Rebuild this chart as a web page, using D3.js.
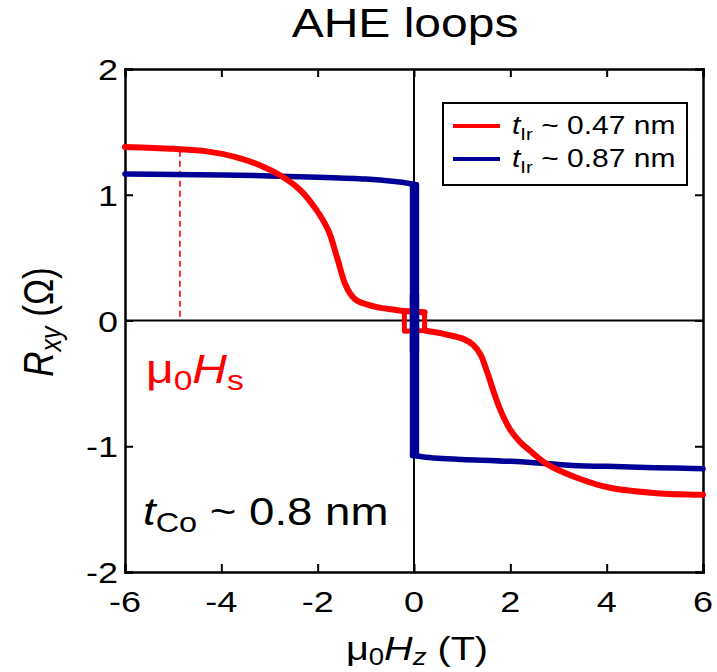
<!DOCTYPE html>
<html><head><meta charset="utf-8">
<script src="https://cdn.jsdelivr.net/npm/d3@7"></script>
<style>
html,body{margin:0;padding:0;background:#fff;}
text{font-family:"Liberation Sans", Arial, Helvetica, sans-serif;}
</style></head>
<body><svg id="c" width="717" height="672"></svg>
<script>
// ---- data ----
const xTicks = [-6, -4, -2, 0, 2, 4, 6];
const yTicks = [-2, -1, 0, 1, 2];
// red (t_Ir ~ 0.47 nm): upper branch up to switching, lower branch after switching
const redUpX = [-6, -5, -4.3, -3.7, -3.2, -2.78, -2.37, -2.02, -1.78, -1.6, -1.43, -1.3, -1.19, -1.0, -0.77, -0.4, -0.2, 0.22];
const redUpY = [1.38, 1.365, 1.345, 1.3, 1.235, 1.155, 1.04, 0.876, 0.717, 0.505, 0.29, 0.2, 0.16, 0.13, 0.106, 0.085, 0.075, 0.065];
const redDownX = [0.22, 0.61, 1.02, 1.22, 1.38, 1.51, 1.72, 1.86, 2.0, 2.2, 2.41, 2.75, 3.38, 4.07, 5.04, 6];
const redDownY = [-0.08, -0.106, -0.146, -0.19, -0.27, -0.40, -0.64, -0.77, -0.87, -0.965, -1.036, -1.14, -1.25, -1.33, -1.373, -1.386];
const redLoopX = [-0.2, 0.22, 0.22, -0.2, -0.2];
const redLoopY = [0.075, 0.065, -0.08, -0.085, 0.075];
// blue (t_Ir ~ 0.87 nm)
const blueLeftX = [-6, -5, -4, -3, -2, -1, -0.4, -0.1, 0.05];
const blueLeftY = [1.165, 1.162, 1.158, 1.15, 1.14, 1.125, 1.105, 1.09, 1.08];
const blueRightX = [-0.03, 0.05, 0.2, 0.5, 1, 2, 3, 3.4, 4, 5, 6];
const blueRightY = [-1.072, -1.075, -1.085, -1.095, -1.105, -1.12, -1.145, -1.155, -1.16, -1.17, -1.178];
const blueSwitchX = [-0.03, 0.05];
const blueSwitchTop = 1.08;
const blueSwitchBottom = -1.075;
// saturation-field marker
const hsX = -4.86, hsTop = 1.35, hsBottom = 0.03;

// ---- scales ----
const svg = d3.select("#c");
const x = d3.scaleLinear().domain([-6, 6]).range([125, 703]);
const y = d3.scaleLinear().domain([-2, 2]).range([572, 69]);
const SX = 1.2; // horizontal text stretch

// zero lines
svg.append("line").attr("x1", x(-6)).attr("x2", x(6)).attr("y1", y(0)).attr("y2", y(0))
  .attr("stroke", "#000").attr("stroke-width", 2);
svg.append("line").attr("x1", x(0)).attr("x2", x(0)).attr("y1", y(-2)).attr("y2", y(2))
  .attr("stroke", "#000").attr("stroke-width", 2);

// axes (inward ticks)
const tickLen = 8;
const axB = svg.append("g").attr("transform", `translate(0,${y(-2)})`)
  .call(d3.axisBottom(x).tickValues(xTicks).tickSize(-tickLen).tickFormat(""));
const axT = svg.append("g").attr("transform", `translate(0,${y(2)})`)
  .call(d3.axisTop(x).tickValues(xTicks).tickSize(-tickLen).tickFormat(""));
const axL = svg.append("g").attr("transform", `translate(${x(-6)},0)`)
  .call(d3.axisLeft(y).tickValues(yTicks).tickSize(-tickLen).tickFormat(""));
const axR = svg.append("g").attr("transform", `translate(${x(6)},0)`)
  .call(d3.axisRight(y).tickValues(yTicks).tickSize(-tickLen).tickFormat(""));
[axB, axT, axL, axR].forEach(g => {
  g.select(".domain").attr("stroke", "#000").attr("stroke-width", 2.5);
  g.selectAll(".tick line").attr("stroke", "#000").attr("stroke-width", 2);
});

// tick labels
xTicks.forEach(v => {
  svg.append("text").attr("transform", `translate(${x(v)},612) scale(${SX},1)`)
    .attr("text-anchor", "middle").attr("font-size", 30).text(v);
});
yTicks.forEach(v => {
  svg.append("text").attr("transform", `translate(118,${y(v) + 11}) scale(${SX},1)`)
    .attr("text-anchor", "end").attr("font-size", 30).text(v);
});

// dashed marker
svg.append("line").attr("x1", x(hsX)).attr("x2", x(hsX)).attr("y1", y(hsTop)).attr("y2", y(hsBottom))
  .attr("stroke", "#ff0000").attr("stroke-width", 1.6).attr("stroke-dasharray", "6,4");

// lines
const lineSmooth = d3.line().x(d => x(d[0])).y(d => y(d[1])).curve(d3.curveCatmullRom.alpha(0.5));
const lineLin = d3.line().x(d => x(d[0])).y(d => y(d[1]));
const zip = (a, b) => a.map((v, i) => [v, b[i]]);
const RED = "#ff0000", BLUE = "#000096";

function path(data, gen, color, w) {
  svg.append("path").attr("d", gen(data)).attr("fill", "none").attr("stroke", color)
    .attr("stroke-width", w).attr("stroke-linejoin", "round").attr("stroke-linecap", "round");
}
// blue
path(zip(blueLeftX, blueLeftY), lineSmooth, BLUE, 5.5);
path(zip(blueRightX, blueRightY), lineSmooth, BLUE, 5.5);
blueSwitchX.forEach(v => path([[v, blueSwitchTop], [v, blueSwitchBottom]], lineLin, BLUE, 5.5));
// red
path(zip(redUpX, redUpY), lineSmooth, RED, 6);
path(zip(redDownX, redDownY), lineSmooth, RED, 6);
path(zip(redLoopX, redLoopY), lineLin, RED, 5);
// blue switching line lies over the red loop
blueSwitchX.forEach(v => path([[v, 0.2], [v, -0.25]], lineLin, BLUE, 5.5));

// legend
svg.append("rect").attr("x", 443).attr("y", 103).attr("width", 244).attr("height", 82)
  .attr("fill", "#fff").attr("stroke", "#000").attr("stroke-width", 2);
const legend = [{c: RED, t: "0.47"}, {c: BLUE, t: "0.87"}];
legend.forEach((d, i) => {
  const cy = 126 + i * 33;
  svg.append("line").attr("x1", 453).attr("x2", 500).attr("y1", cy).attr("y2", cy)
    .attr("stroke", d.c).attr("stroke-width", 4);
  const t = svg.append("text").attr("transform", `translate(512,${cy + 8}) scale(${SX},1)`)
    .attr("font-size", 25);
  t.append("tspan").attr("font-style", "italic").text("t");
  t.append("tspan").attr("font-size", 17).attr("dy", 6).text("Ir");
  t.append("tspan").attr("dy", -6).text(` ~ ${d.t} nm`);
});

// title
svg.append("text").attr("transform", `translate(405,37) scale(${SX},1)`)
  .attr("text-anchor", "middle").attr("font-size", 40).text("AHE loops");

// x axis title
{
  const t = svg.append("text").attr("transform", `translate(417,660) scale(${SX},1)`)
    .attr("text-anchor", "middle").attr("font-size", 33);
  t.append("tspan").text("μ");
  t.append("tspan").attr("font-size", 23).attr("dy", 5).text("0");
  t.append("tspan").attr("dy", -5).attr("font-style", "italic").text("H");
  t.append("tspan").attr("font-size", 23).attr("dy", 5).attr("font-style", "italic").text("z");
  t.append("tspan").attr("dy", -5).text(" (T)");
}
// y axis title
{
  const t = svg.append("text").attr("transform", `translate(53,322) scale(${SX},1) rotate(-90)`)
    .attr("text-anchor", "middle").attr("font-size", 35);
  t.append("tspan").attr("font-style", "italic").text("R");
  t.append("tspan").attr("font-size", 25).attr("dy", 7).attr("font-style", "italic").text("xy");
  t.append("tspan").attr("dy", -7).text(" (Ω)");
}
// annotations
{
  const t = svg.append("text").attr("transform", `translate(146,383) scale(${SX},1)`)
    .attr("font-size", 40).attr("fill", RED);
  t.append("tspan").text("μ");
  t.append("tspan").attr("font-size", 28).attr("dy", 7).text("0");
  t.append("tspan").attr("dy", -7).attr("font-style", "italic").text("H");
  t.append("tspan").attr("font-size", 28).attr("dy", 7).text("s");
}
{
  const t = svg.append("text").attr("transform", `translate(143,525) scale(${SX},1)`)
    .attr("font-size", 38).attr("fill", "#000");
  t.append("tspan").attr("font-style", "italic").text("t");
  t.append("tspan").attr("font-size", 27).attr("dy", 7).text("Co");
  t.append("tspan").attr("dy", -7).text(" ~ 0.8 nm");
}
</script></body></html>
